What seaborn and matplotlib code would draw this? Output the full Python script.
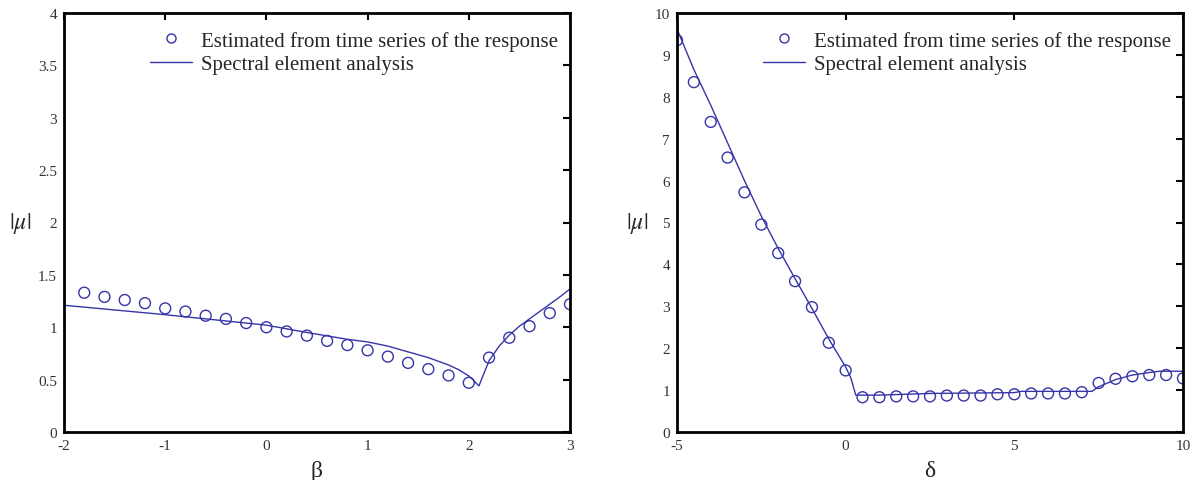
import numpy as np
import pandas as pd
import matplotlib
matplotlib.use("Agg")
import matplotlib.pyplot as plt
import seaborn as sns
from matplotlib.lines import Line2D

# ---------------- data ----------------
beta_pts = [-1.8, -1.6, -1.4, -1.2, -1.0, -0.8, -0.6, -0.4, -0.2, 0.0, 0.2, 0.4, 0.6,
            0.8, 1.0, 1.2, 1.4, 1.6, 1.8, 2.0, 2.2, 2.4, 2.6, 2.8, 3.0]
mu_beta_pts = [1.33, 1.29, 1.26, 1.23, 1.18, 1.15, 1.11, 1.08, 1.04, 1.00, 0.96, 0.92, 0.87,
               0.83, 0.78, 0.72, 0.66, 0.60, 0.54, 0.47, 0.71, 0.90, 1.01, 1.135, 1.22]
beta_line = [-2.0, -1.5, -1.0, -0.5, 0.0, 0.4, 0.8, 1.0, 1.2, 1.4, 1.6, 1.8, 1.9, 2.0,
             2.05, 2.1, 2.2, 2.3, 2.4, 2.5, 2.6, 2.7, 2.8, 2.9, 3.0]
mu_beta_line = [1.21, 1.165, 1.12, 1.07, 1.02, 0.95, 0.885, 0.86, 0.82, 0.765, 0.71, 0.64,
                0.595, 0.535, 0.49, 0.44, 0.68, 0.82, 0.925, 1.01, 1.08, 1.15, 1.22, 1.29, 1.365]

delta_pts = [-5.0, -4.5, -4.0, -3.5, -3.0, -2.5, -2.0, -1.5, -1.0, -0.5, 0.0, 0.5, 1.0, 1.5,
             2.0, 2.5, 3.0, 3.5, 4.0, 4.5, 5.0, 5.5, 6.0, 6.5, 7.0, 7.5, 8.0, 8.5, 9.0, 9.5, 10.0]
mu_delta_pts = [9.35, 8.35, 7.40, 6.55, 5.72, 4.95, 4.27, 3.60, 2.98, 2.13, 1.47, 0.83, 0.83,
                0.85, 0.85, 0.85, 0.87, 0.87, 0.87, 0.90, 0.90, 0.92, 0.92, 0.92, 0.95, 1.17,
                1.27, 1.33, 1.36, 1.36, 1.28]
delta_line = [-5.0, -4.5, -4.0, -3.5, -3.0, -2.5, -2.0, -1.5, -1.0, -0.5, 0.0, 0.15, 0.3,
              1.0, 2.5, 5.0, 5.2, 7.3, 7.5, 8.0, 8.5, 9.0, 9.3, 10.0]
mu_delta_line = [9.62, 8.65, 7.8, 6.9, 6.0, 5.15, 4.38, 3.66, 2.95, 2.22, 1.55, 1.30, 0.88,
                 0.88, 0.92, 0.94, 0.97, 0.97, 1.08, 1.25, 1.36, 1.42, 1.45, 1.45]

label_pts = "Estimated from time series of the response"
label_line = "Spectral element analysis"
left_xticks = [-2, -1, 0, 1, 2, 3]
left_yticks = [0, 0.5, 1, 1.5, 2, 2.5, 3, 3.5, 4]
right_xticks = [-5, 0, 5, 10]
right_yticks = list(range(0, 11))

# ---------------- style ----------------
sns.set_theme(style="white")
plt.rcParams["font.family"] = ["Liberation Serif", "DejaVu Serif"]
plt.rcParams["mathtext.fontset"] = "stix"

COL = "#3535a8"

fig = plt.figure(figsize=(12.02, 4.81), dpi=100)
ax1 = fig.add_axes([64 / 1202, 48 / 481, 506 / 1202, 419 / 481])
ax2 = fig.add_axes([677 / 1202, 48 / 481, 506 / 1202, 419 / 481])


def fmt(v):
    return f"{v:g}"


def draw(ax, xp, yp, xl, yl, xlim, ylim, xticks, yticks, xlabel):
    sns.lineplot(x=xl, y=yl, ax=ax, color=COL, linewidth=1.0, sort=False)
    sns.scatterplot(x=xp, y=yp, ax=ax, marker="o", s=62, facecolors="none",
                    edgecolors=COL, linewidths=1.0)
    ax.set_xlim(*xlim)
    ax.set_ylim(*ylim)
    ax.set_xticks(xticks)
    ax.set_xticklabels([fmt(v) for v in xticks])
    ax.set_yticks(yticks)
    ax.set_yticklabels([fmt(v) for v in yticks])
    ax.tick_params(direction="in", length=5, width=1.5, top=True, right=True,
                   labelsize=11, labelcolor="#333333", color="black", pad=5)
    for s in ax.spines.values():
        s.set_visible(True)
        s.set_color("black")
        s.set_linewidth(2.0)
    ax.set_xlabel(xlabel, fontsize=17, labelpad=6)
    ax.set_ylabel(r"$|\mu|$", fontsize=17, rotation=0, labelpad=13, va="center")
    ax.grid(False)
    handles = [
        Line2D([], [], linestyle="", marker="o", markersize=6.5, markerfacecolor="none",
               markeredgecolor=COL, markeredgewidth=1.0),
        Line2D([], [], color=COL, linewidth=1.0),
    ]
    ax.legend(handles, [label_pts, label_line], loc="upper right", frameon=False,
              bbox_to_anchor=(1.0 + 6 / 506, 1.0),
              fontsize=15, handlelength=2.0, handletextpad=0.45, labelspacing=0.2,
              borderaxespad=0.45, borderpad=0.4)


draw(ax1, beta_pts, mu_beta_pts, beta_line, mu_beta_line, (-2, 3), (0, 4),
     left_xticks, left_yticks, "β")
draw(ax2, delta_pts, mu_delta_pts, delta_line, mu_delta_line, (-5, 10), (0, 10),
     right_xticks, right_yticks, "δ")

fig.savefig("out.png", dpi=100)
